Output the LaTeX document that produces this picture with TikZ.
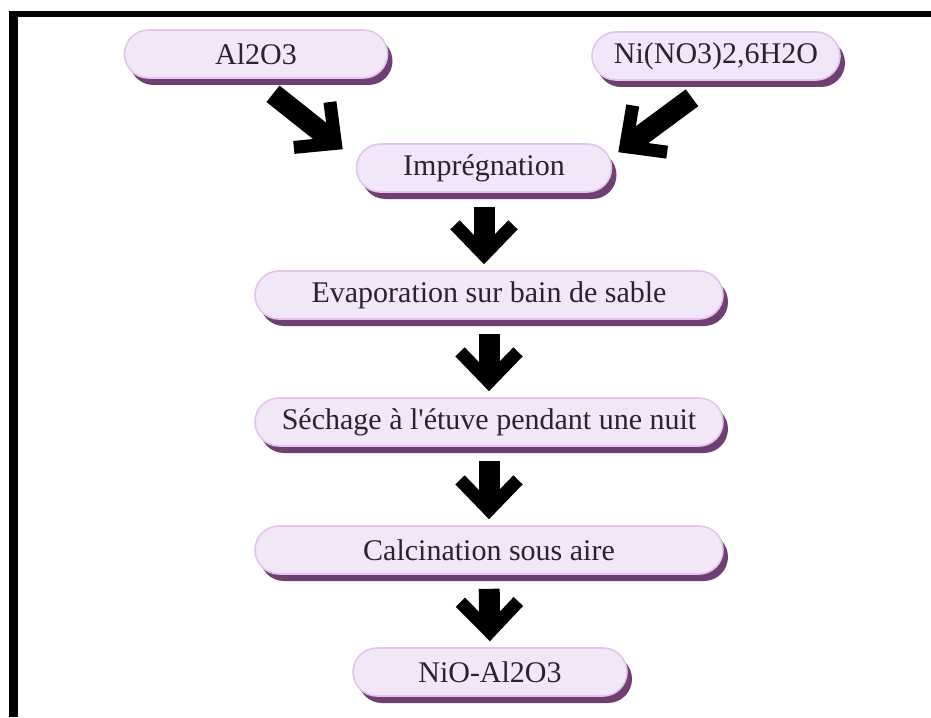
\documentclass[tikz,border=0pt]{standalone}
\usepackage{fontspec}
\setmainfont{Liberation Serif}
\usetikzlibrary{arrows.meta,shadows}
\definecolor{lav}{HTML}{F1E7F9}
\definecolor{plum}{HTML}{5E2A60}
\definecolor{rim}{HTML}{E3C3EC}
\definecolor{ink}{HTML}{2A2232}

\begin{document}
\begin{tikzpicture}[x=0.5pt, y=-0.5pt, main/.style = {draw=rim, line width=0.8pt, fill=lav, rounded corners=12pt, minimum height=24pt, text=ink, font=\fontsize{15}{18}\selectfont, drop shadow={shadow xshift=2.5pt, shadow yshift=-3.5pt, fill=plum, opacity=0.9}}, arr/.style = {line width=10.5pt, -{Straight Barb[length=15pt, width=29pt, line width=6.5pt]}}]
\useasboundingbox (0,0) rectangle (931,717);
\draw [line width=3pt] (9,14.5) -- (931,14.5); \draw [line width=4.5pt] (13.5,11.5) -- (13.5,717);
\node[main, minimum width=131.5pt](0) at (256,54) {Al2O3}; \node[main, minimum width=124pt](1) at (716,56) {Ni(NO3)2,6H2O};
\node[main, minimum width=127.5pt](2) at (484,168) {Imprégnation};
\node[main, minimum width=234pt](3) at (489,295) {Evaporation sur bain de sable};
\node[main, minimum width=234pt](4) at (489,422) {Séchage à l\textquotesingle étuve pendant une nuit};
\node[main, minimum width=234pt](5) at (489,550) {Calcination sous aire};
\node[main, minimum width=137pt](6) at (490,672) {NiO-Al2O3};
\draw [arr] ([shift={(17,15)}]0.south) -- ([shift={(-13,6)}]2.north west); \draw [arr] ([shift={(-24,17)}]1.south) -- ([shift={(6,9)}]2.north east);
\draw [arr, shorten <=7pt, shorten >=3pt] (2.south) -- (2.south |- 3.north); \draw [arr, shorten <=7pt, shorten >=3pt] (3.south) -- (4.north);
\draw [arr, shorten <=7pt, shorten >=3pt] (4.south) -- (5.north); \draw [arr, shorten <=7pt, shorten >=3pt] (5.south) -- (6.north);
\end{tikzpicture}
\end{document}
